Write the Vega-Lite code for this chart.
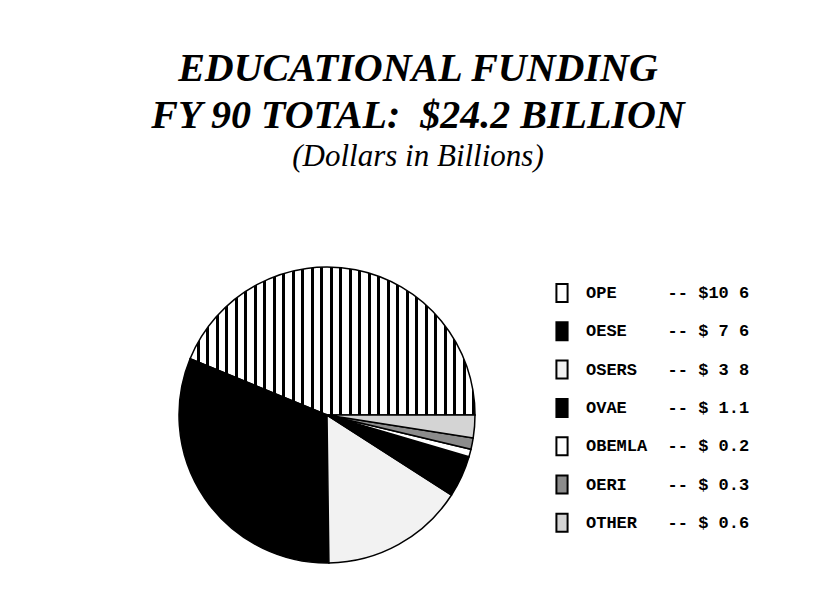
{
  "$schema": "https://vega.github.io/schema/vega-lite/v6.json",
  "width": 654,
  "height": 354,
  "padding": {"left": 0, "top": 49, "right": 0, "bottom": 0},
  "background": "white",
  "title": {
    "text": ["EDUCATIONAL FUNDING", "FY 90 TOTAL:\u00a0\u00a0$24.2 BILLION"],
    "subtitle": "(Dollars in Billions)",
    "anchor": "middle",
    "frame": "group",
    "dx": 91,
    "font": "Liberation Serif",
    "fontSize": 40,
    "fontStyle": "italic",
    "fontWeight": "bold",
    "lineHeight": 47,
    "color": "black",
    "subtitleFont": "Liberation Serif",
    "subtitleFontSize": 31,
    "subtitleFontStyle": "italic",
    "subtitleFontWeight": "normal",
    "subtitleColor": "black",
    "subtitlePadding": 6,
    "offset": 66
  },
  "data": {
    "values": [
      {"name": "OPE", "value": 10.6, "ord": 7, "label": "OPE\u00a0\u00a0\u00a0\u00a0\u00a0--\u00a0$10\u00a06"},
      {"name": "OESE", "value": 7.6, "ord": 6, "label": "OESE\u00a0\u00a0\u00a0\u00a0--\u00a0$\u00a07\u00a06"},
      {"name": "OSERS", "value": 3.8, "ord": 5, "label": "OSERS\u00a0\u00a0\u00a0--\u00a0$\u00a03\u00a08"},
      {"name": "OVAE", "value": 1.1, "ord": 4, "label": "OVAE\u00a0\u00a0\u00a0\u00a0--\u00a0$\u00a01.1"},
      {"name": "OBEMLA", "value": 0.2, "ord": 3, "label": "OBEMLA\u00a0\u00a0--\u00a0$\u00a00.2"},
      {"name": "OERI", "value": 0.3, "ord": 2, "label": "OERI\u00a0\u00a0\u00a0\u00a0--\u00a0$\u00a00.3"},
      {"name": "OTHER", "value": 0.6, "ord": 1, "label": "OTHER\u00a0\u00a0\u00a0--\u00a0$\u00a00.6"}
    ]
  },
  "mark": {"type": "arc", "outerRadius": 148, "stroke": "black", "strokeWidth": 1.5},
  "encoding": {
    "theta": {"field": "value", "type": "quantitative", "stack": true, "scale": {"range": [1.5707963, 7.8539816]}},
    "order": {"field": "ord", "type": "quantitative", "sort": "ascending"},
    "color": {
      "field": "label",
      "type": "nominal",
      "sort": {"field": "ord", "order": "descending"},
      "scale": {"range": ["#ffffff", "#000000", "#f2f2f2", "#000000", "#ffffff", "#8c8c8c", "#d4d4d4"]},
      "condition": {
        "test": "datum.name === 'OPE'",
        "value": {
          "gradient": "linear", "x1": 0, "y1": 0, "x2": 1, "y2": 0,
          "stops": [
            {"offset": 0, "color": "#fff"}, {"offset": 0.024, "color": "#fff"}, {"offset": 0.024, "color": "#000"}, {"offset": 0.0333, "color": "#000"},
            {"offset": 0.0333, "color": "#fff"}, {"offset": 0.0573, "color": "#fff"}, {"offset": 0.0573, "color": "#000"}, {"offset": 0.0667, "color": "#000"},
            {"offset": 0.0667, "color": "#fff"}, {"offset": 0.0907, "color": "#fff"}, {"offset": 0.0907, "color": "#000"}, {"offset": 0.1, "color": "#000"},
            {"offset": 0.1, "color": "#fff"}, {"offset": 0.124, "color": "#fff"}, {"offset": 0.124, "color": "#000"}, {"offset": 0.1333, "color": "#000"},
            {"offset": 0.1333, "color": "#fff"}, {"offset": 0.1573, "color": "#fff"}, {"offset": 0.1573, "color": "#000"}, {"offset": 0.1667, "color": "#000"},
            {"offset": 0.1667, "color": "#fff"}, {"offset": 0.1907, "color": "#fff"}, {"offset": 0.1907, "color": "#000"}, {"offset": 0.2, "color": "#000"},
            {"offset": 0.2, "color": "#fff"}, {"offset": 0.224, "color": "#fff"}, {"offset": 0.224, "color": "#000"}, {"offset": 0.2333, "color": "#000"},
            {"offset": 0.2333, "color": "#fff"}, {"offset": 0.2573, "color": "#fff"}, {"offset": 0.2573, "color": "#000"}, {"offset": 0.2667, "color": "#000"},
            {"offset": 0.2667, "color": "#fff"}, {"offset": 0.2907, "color": "#fff"}, {"offset": 0.2907, "color": "#000"}, {"offset": 0.3, "color": "#000"},
            {"offset": 0.3, "color": "#fff"}, {"offset": 0.324, "color": "#fff"}, {"offset": 0.324, "color": "#000"}, {"offset": 0.3333, "color": "#000"},
            {"offset": 0.3333, "color": "#fff"}, {"offset": 0.3573, "color": "#fff"}, {"offset": 0.3573, "color": "#000"}, {"offset": 0.3667, "color": "#000"},
            {"offset": 0.3667, "color": "#fff"}, {"offset": 0.3907, "color": "#fff"}, {"offset": 0.3907, "color": "#000"}, {"offset": 0.4, "color": "#000"},
            {"offset": 0.4, "color": "#fff"}, {"offset": 0.424, "color": "#fff"}, {"offset": 0.424, "color": "#000"}, {"offset": 0.4333, "color": "#000"},
            {"offset": 0.4333, "color": "#fff"}, {"offset": 0.4573, "color": "#fff"}, {"offset": 0.4573, "color": "#000"}, {"offset": 0.4667, "color": "#000"},
            {"offset": 0.4667, "color": "#fff"}, {"offset": 0.4907, "color": "#fff"}, {"offset": 0.4907, "color": "#000"}, {"offset": 0.5, "color": "#000"},
            {"offset": 0.5, "color": "#fff"}, {"offset": 0.524, "color": "#fff"}, {"offset": 0.524, "color": "#000"}, {"offset": 0.5333, "color": "#000"},
            {"offset": 0.5333, "color": "#fff"}, {"offset": 0.5573, "color": "#fff"}, {"offset": 0.5573, "color": "#000"}, {"offset": 0.5667, "color": "#000"},
            {"offset": 0.5667, "color": "#fff"}, {"offset": 0.5907, "color": "#fff"}, {"offset": 0.5907, "color": "#000"}, {"offset": 0.6, "color": "#000"},
            {"offset": 0.6, "color": "#fff"}, {"offset": 0.624, "color": "#fff"}, {"offset": 0.624, "color": "#000"}, {"offset": 0.6333, "color": "#000"},
            {"offset": 0.6333, "color": "#fff"}, {"offset": 0.6573, "color": "#fff"}, {"offset": 0.6573, "color": "#000"}, {"offset": 0.6667, "color": "#000"},
            {"offset": 0.6667, "color": "#fff"}, {"offset": 0.6907, "color": "#fff"}, {"offset": 0.6907, "color": "#000"}, {"offset": 0.7, "color": "#000"},
            {"offset": 0.7, "color": "#fff"}, {"offset": 0.724, "color": "#fff"}, {"offset": 0.724, "color": "#000"}, {"offset": 0.7333, "color": "#000"},
            {"offset": 0.7333, "color": "#fff"}, {"offset": 0.7573, "color": "#fff"}, {"offset": 0.7573, "color": "#000"}, {"offset": 0.7667, "color": "#000"},
            {"offset": 0.7667, "color": "#fff"}, {"offset": 0.7907, "color": "#fff"}, {"offset": 0.7907, "color": "#000"}, {"offset": 0.8, "color": "#000"},
            {"offset": 0.8, "color": "#fff"}, {"offset": 0.824, "color": "#fff"}, {"offset": 0.824, "color": "#000"}, {"offset": 0.8333, "color": "#000"},
            {"offset": 0.8333, "color": "#fff"}, {"offset": 0.8573, "color": "#fff"}, {"offset": 0.8573, "color": "#000"}, {"offset": 0.8667, "color": "#000"},
            {"offset": 0.8667, "color": "#fff"}, {"offset": 0.8907, "color": "#fff"}, {"offset": 0.8907, "color": "#000"}, {"offset": 0.9, "color": "#000"},
            {"offset": 0.9, "color": "#fff"}, {"offset": 0.924, "color": "#fff"}, {"offset": 0.924, "color": "#000"}, {"offset": 0.9333, "color": "#000"},
            {"offset": 0.9333, "color": "#fff"}, {"offset": 0.9573, "color": "#fff"}, {"offset": 0.9573, "color": "#000"}, {"offset": 0.9667, "color": "#000"},
            {"offset": 0.9667, "color": "#fff"}, {"offset": 0.9907, "color": "#fff"}, {"offset": 0.9907, "color": "#000"}, {"offset": 1, "color": "#000"}
          ]
        }
      },
      "legend": {
        "title": null,
        "orient": "none",
        "legendX": 552,
        "legendY": 45,
        "symbolType": "M-0.62,-1H0.62V1H-0.62Z",
        "symbolSize": 324,
        "symbolStrokeColor": "black",
        "symbolStrokeWidth": 2,
        "symbolOpacity": 1,
        "labelFont": "Liberation Mono",
        "labelFontWeight": "bold",
        "labelFontSize": 17,
        "labelColor": "black",
        "labelOffset": 14,
        "labelLimit": 400,
        "rowPadding": 12.3
      }
    }
  },
  "config": {"view": {"stroke": null}}
}
